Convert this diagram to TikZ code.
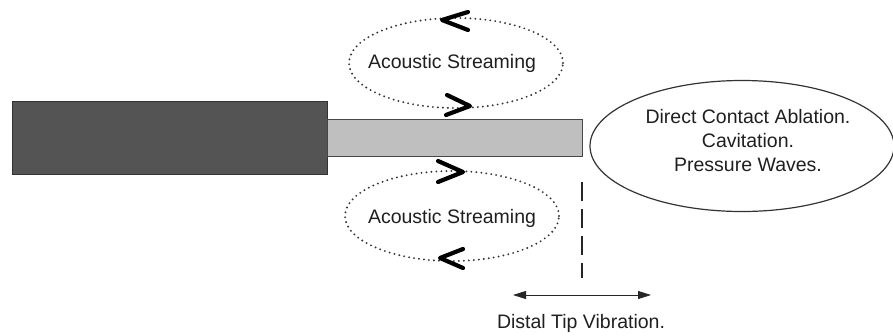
\documentclass[tikz,border=0pt]{standalone}
\usepackage{fontspec}
\setmainfont{Liberation Sans}
\usetikzlibrary{shapes.geometric,arrows.meta}
\begin{document}
\begin{tikzpicture}[x=1pt,y=-1pt,
  lbl/.style={font=\fontsize{19.5}{24}\selectfont, text=black!88, inner sep=0pt},
  dotell/.style={draw=black!80, line width=2.1pt, line cap=round, dash pattern=on 0pt off 5pt, ellipse, inner sep=0pt, minimum width=214pt, minimum height=90pt},
  chev/.style={line width=4.2pt, line cap=round, line join=round, draw=black},
  rod/.style={line width=1.2pt, inner sep=0pt, anchor=north west},
  tipdash/.style={line width=1.4pt, draw=black!85, dash pattern=on 19pt off 8pt},
  vibarrow/.style={{Triangle[length=13pt,width=8pt]}-{Triangle[length=13pt,width=8pt]}, line width=0.8pt, draw=black!85},
 ]
\useasboundingbox (0,0) rectangle (893,335);
% rods
\node[rod, draw=black!80, fill=black!67, minimum width=315pt, minimum height=73pt] (handle) at (12,101) {};
\node[rod, draw=black!72, fill=black!25, minimum width=255pt, minimum height=37pt] (tip) at (327,119) {};
% streaming loops
\node[dotell] (upper) at (456,63) {};
\node[lbl] (uppertext) at (452,63) {Acoustic Streaming};
\node[dotell] (lower) at (452,216) {};
\node[lbl] (lowertext) at (452,218) {Acoustic Streaming};
% chevrons
\draw[chev] (468,12) -- (442,20) -- (468,30);
\draw[chev] (447,95) -- (470,106) -- (446,115);
\draw[chev] (438,161) -- (463,172) -- (438,182);
\draw[chev] (463,249) -- (440,258) -- (463,268);
% effects ellipse
\node[draw=black!80, line width=1.2pt, ellipse, minimum width=304pt, minimum height=131pt, inner sep=0pt] (effects) at (742,146) {};
\node[lbl, align=center] (effectstext) at (748,141) {Direct Contact Ablation.\\Cavitation.\\Pressure Waves.};
% tip vibration
\coordinate (dtop) at (582,182);
\coordinate (dbot) at (582,278);
\draw[tipdash] (dtop) -- (dbot);
\coordinate (aL) at (513,295);
\coordinate (aR) at (651,295);
\draw[vibarrow] (aL) -- (aR);
\node[lbl] (vib) at (581,323) {Distal Tip Vibration.};
\end{tikzpicture}
\end{document}
